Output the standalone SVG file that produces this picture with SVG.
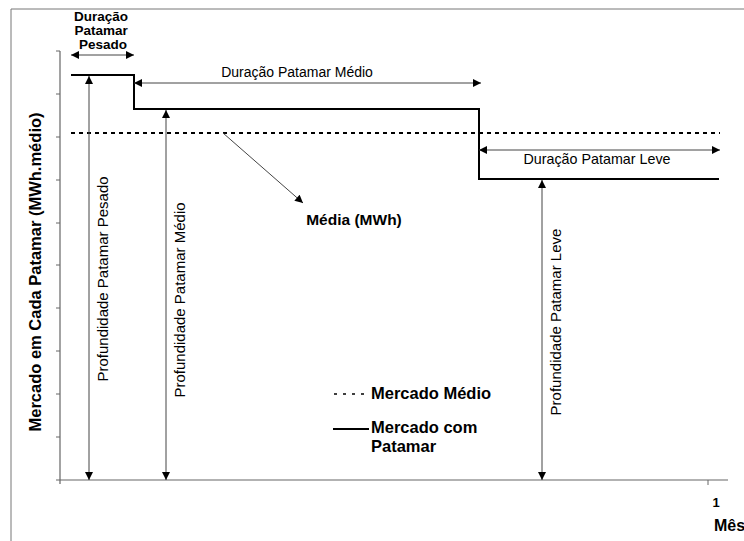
<svg xmlns="http://www.w3.org/2000/svg" width="744" height="541" viewBox="0 0 744 541">
  <style>
    text { font-family: "Liberation Sans", Arial, sans-serif; fill: #000; }
    .b { font-weight: bold; }
    .frame { stroke: #777; stroke-width: 1; fill: none; }
    .axis { stroke: #666; stroke-width: 1.2; fill: none; }
    .tick { stroke: #666; stroke-width: 1; }
    .step { stroke: #000; stroke-width: 2; fill: none; }
    .mean { stroke: #000; stroke-width: 2; stroke-dasharray: 4 4; fill: none; }
    .dim2 { stroke: #444; stroke-width: 1; fill: none; marker-end: url(#ah); marker-start: url(#ah); }
    .dim1 { stroke: #444; stroke-width: 1; fill: none; marker-end: url(#ah); }
  </style>
  <defs>
    <marker id="ah" viewBox="0 0 10 10" refX="10" refY="5" markerUnits="userSpaceOnUse" markerWidth="9" markerHeight="8" orient="auto-start-reverse">
      <path d="M0,0 L10,5 L0,10 z" fill="#000"/>
    </marker>
  </defs>

  <rect width="744" height="541" fill="#fff"/>

  <!-- outer frame (top and left edges) -->
  <path class="frame" d="M11,541 V9 H744"/>

  <!-- axes with ticks -->
  <g id="axes">
    <path class="axis" d="M60,51 V484 M56,480 H728"/>
    <path class="tick" d="M56,51 H60 M56,94 H60 M56,137 H60 M56,180 H60 M56,223 H60 M56,265 H60 M56,308 H60 M56,351 H60 M56,394 H60 M56,437 H60 M708,480 V485"/>
    <text x="716" y="507" font-size="13" text-anchor="middle" class="b">1</text>
    <text x="714" y="531" font-size="16" class="b">Mês</text>
    <text transform="translate(41,272) rotate(-90)" font-size="16.5" text-anchor="middle" class="b">Mercado em Cada Patamar (MWh.médio)</text>
  </g>

  <!-- market per load level (step) and mean market (dashed) -->
  <g id="mercado-patamar">
    <path class="step" d="M71,75 H134 V109 H479 V179 H719"/>
  </g>
  <g id="mercado-medio">
    <path class="mean" d="M71,133 H720"/>
  </g>

  <!-- dimension arrows -->
  <g id="connectors">
    <path class="dim2" d="M71,55 H134"/>
    <path class="dim2" d="M134,83 H481"/>
    <path class="dim2" d="M479,150 H720"/>
    <path class="dim2" d="M89,76 V480"/>
    <path class="dim2" d="M166,110 V480"/>
    <path class="dim2" d="M542,180 V480"/>
    <path class="dim1" d="M223,133 L303,203"/>
  </g>

  <!-- labels -->
  <g id="duracao-pesado">
    <text font-size="13.5" text-anchor="middle" class="b">
      <tspan x="103" y="21">Duração</tspan>
      <tspan x="103" y="35">Patamar</tspan>
      <tspan x="103" y="49">Pesado</tspan>
    </text>
  </g>
  <g id="duracao-medio">
    <text x="297" y="77" font-size="14" text-anchor="middle">Duração Patamar Médio</text>
  </g>
  <g id="duracao-leve">
    <text x="597" y="164" font-size="14.3" text-anchor="middle">Duração Patamar Leve</text>
  </g>
  <g id="media">
    <text x="354" y="225" font-size="15.5" text-anchor="middle" class="b">Média (MWh)</text>
  </g>
  <g id="profundidade-pesado">
    <text transform="translate(108,279) rotate(-90)" font-size="15" text-anchor="middle">Profundidade Patamar Pesado</text>
  </g>
  <g id="profundidade-medio">
    <text transform="translate(185,300) rotate(-90)" font-size="15" text-anchor="middle">Profundidade Patamar Médio</text>
  </g>
  <g id="profundidade-leve">
    <text transform="translate(561,322) rotate(-90)" font-size="15" text-anchor="middle">Profundidade Patamar Leve</text>
  </g>

  <!-- legend -->
  <g id="legenda">
    <path d="M334,394 H369" stroke="#000" stroke-width="1.5" stroke-dasharray="3 6" fill="none"/>
    <text x="371" y="399" font-size="16.5" class="b">Mercado Médio</text>
    <path class="step" d="M333,429 H369"/>
    <text font-size="16.5" class="b">
      <tspan x="371" y="433">Mercado com</tspan>
      <tspan x="371" y="452">Patamar</tspan>
    </text>
  </g>
</svg>
